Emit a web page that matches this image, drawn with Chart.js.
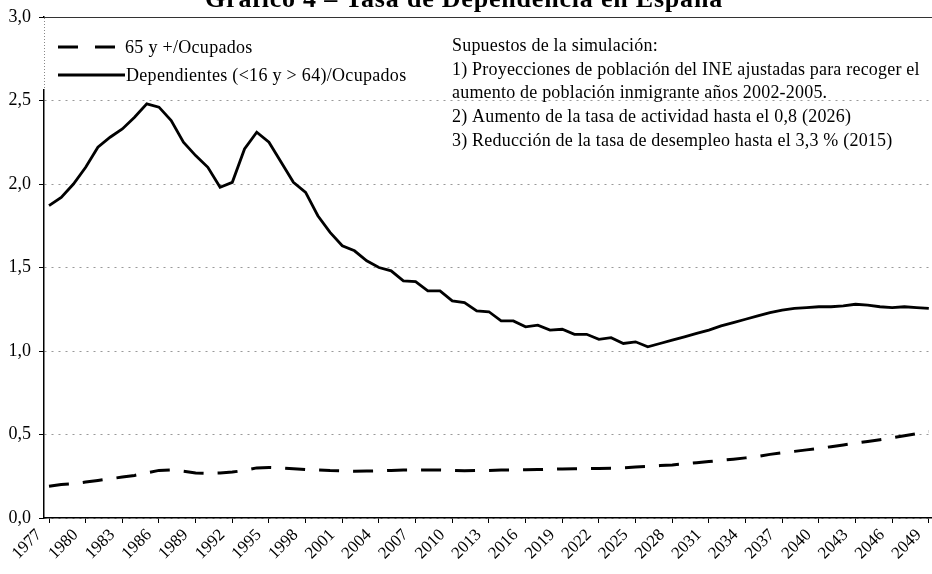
<!DOCTYPE html>
<html lang="es">
<head>
<meta charset="utf-8">
<title>Tasa de Dependencia en España</title>
<script src="https://cdn.jsdelivr.net/npm/chart.js@4.4.4/dist/chart.umd.min.js"></script>
<style>
  html, body { margin: 0; padding: 0; background: #fff; }
  #wrap { width: 932px; height: 574px; }
</style>
</head>
<body>
<div id="wrap"><canvas id="chart-dep" width="932" height="574"></canvas></div>
<script>
// Datos
const years = [
  1977, 1978, 1979, 1980, 1981, 1982, 1983, 1984, 1985, 1986,
  1987, 1988, 1989, 1990, 1991, 1992, 1993, 1994, 1995, 1996,
  1997, 1998, 1999, 2000, 2001, 2002, 2003, 2004, 2005, 2006,
  2007, 2008, 2009, 2010, 2011, 2012, 2013, 2014, 2015, 2016,
  2017, 2018, 2019, 2020, 2021, 2022, 2023, 2024, 2025, 2026,
  2027, 2028, 2029, 2030, 2031, 2032, 2033, 2034, 2035, 2036,
  2037, 2038, 2039, 2040, 2041, 2042, 2043, 2044, 2045, 2046,
  2047, 2048, 2049
];

const dependientes = [
  1.87, 1.92, 2.00, 2.10, 2.22, 2.28, 2.33, 2.40, 2.48, 2.46,
  2.38, 2.25, 2.17, 2.10, 1.98, 2.01, 2.21, 2.31, 2.25, 2.13,
  2.01, 1.95, 1.81, 1.71, 1.63, 1.60, 1.54, 1.50, 1.48, 1.42,
  1.415, 1.36, 1.36, 1.30, 1.29, 1.24, 1.235, 1.18, 1.18, 1.145,
  1.155, 1.125, 1.13, 1.10, 1.10, 1.07, 1.08, 1.045, 1.055, 1.025,
  1.045, 1.065, 1.085, 1.105, 1.125, 1.15, 1.17, 1.19, 1.21, 1.23,
  1.245, 1.255, 1.26, 1.265, 1.265, 1.27, 1.28, 1.275, 1.265, 1.26,
  1.265, 1.26, 1.255
];

const mayores65 = [
  0.19, 0.20, 0.205, 0.215, 0.225, 0.235, 0.245, 0.255, 0.27, 0.285,
  0.288, 0.28, 0.27, 0.268, 0.27, 0.275, 0.285, 0.30, 0.303, 0.30,
  0.295, 0.29, 0.288, 0.284, 0.282, 0.28, 0.281, 0.282, 0.285, 0.287,
  0.287, 0.288, 0.287, 0.285, 0.283, 0.284, 0.285, 0.287, 0.288, 0.289,
  0.29, 0.292, 0.294, 0.295, 0.296, 0.297, 0.298, 0.301, 0.305, 0.309,
  0.314, 0.318, 0.324, 0.331, 0.338, 0.345, 0.352, 0.36, 0.369, 0.381,
  0.39, 0.399, 0.408, 0.417, 0.427, 0.437, 0.448, 0.458, 0.469, 0.48,
  0.492, 0.505, 0.518
];

const xTickYears = [
  1977, 1980, 1983, 1986, 1989, 1992, 1995, 1998, 2001, 2004, 2007, 2010, 2013,
  2016, 2019, 2022, 2025, 2028, 2031, 2034, 2037, 2040, 2043, 2046, 2049
];

const titulo = 'Gráfico 4 – Tasa de Dependencia en España';
const supuestos = [
  'Supuestos de la simulación:',
  '1) Proyecciones de población del INE ajustadas para recoger el',
  'aumento de población inmigrante años 2002-2005.',
  '2) Aumento de la tasa de actividad hasta el 0,8 (2026)',
  '3) Reducción de la tasa de desempleo hasta el 3,3 % (2015)'
];

const SERIF = '"Liberation Serif", "DejaVu Serif", serif';

const toPoints = vals => years.map((y, i) => ({ x: y, y: vals[i] }));

// título cortado, cuadro de leyenda y notas
const decorPlugin = {
  id: 'decor',
  afterDatasetsDraw(chart) {
    const { ctx, chartArea: a } = chart;
    ctx.save();

    ctx.fillStyle = '#000';
    ctx.font = 'bold 26px ' + SERIF;
    ctx.letterSpacing = '0.8px';
    ctx.textAlign = 'center';
    ctx.textBaseline = 'alphabetic';
    ctx.fillText(titulo, 464, 7);

    // marco superior (3,0)
    ctx.strokeStyle = '#333';
    ctx.lineWidth = 1;
    ctx.beginPath();
    ctx.moveTo(a.left, a.top + 0.5);
    ctx.lineTo(a.right, a.top + 0.5);
    ctx.stroke();

    // caja de leyenda
    ctx.fillStyle = '#fff';
    ctx.fillRect(a.left - 2, a.top + 1, 406, 71);
    ctx.setLineDash([1, 2]);
    ctx.strokeStyle = '#888';
    ctx.beginPath();
    ctx.moveTo(a.left + 0.5, a.top + 1);
    ctx.lineTo(a.left + 0.5, a.top + 72);
    ctx.stroke();

    const rows = [
      { ds: chart.data.datasets[0], y: 47, x1: 58, x2: 115, tx: 125 },
      { ds: chart.data.datasets[1], y: 75, x1: 58, x2: 125, tx: 126 }
    ];
    ctx.font = '18px ' + SERIF;
    ctx.letterSpacing = '0.3px';
    ctx.textAlign = 'left';
    ctx.textBaseline = 'middle';
    rows.forEach(r => {
      ctx.setLineDash(r.ds.legendDash || []);
      ctx.strokeStyle = r.ds.borderColor;
      ctx.lineWidth = r.ds.borderWidth;
      ctx.beginPath();
      ctx.moveTo(r.x1, r.y);
      ctx.lineTo(r.x2, r.y);
      ctx.stroke();
      ctx.fillStyle = '#000';
      ctx.fillText(r.ds.label, r.tx, r.y + 1);
    });
    ctx.setLineDash([]);

    ctx.letterSpacing = '0.2px';
    supuestos.forEach((t, i) => ctx.fillText(t, 452, 46 + i * 23.8));
    ctx.restore();
  }
};

new Chart(document.getElementById('chart-dep').getContext('2d'), {
  type: 'line',
  data: {
    datasets: [
      {
        label: '65 y +/Ocupados',
        data: toPoints(mayores65),
        borderColor: '#000',
        borderWidth: 3,
        borderDash: [20, 14],
        legendDash: [20, 17],
        pointRadius: 0,
        tension: 0
      },
      {
        label: 'Dependientes (<16 y > 64)/Ocupados',
        data: toPoints(dependientes),
        borderColor: '#000',
        borderWidth: 2.8,
        pointRadius: 0,
        tension: 0
      }
    ]
  },
  options: {
    responsive: false,
    animation: false,
    devicePixelRatio: 1,
    layout: { padding: { top: 17, right: 0, left: 0, bottom: 0 } },
    plugins: { legend: { display: false }, tooltip: { enabled: false } },
    scales: {
      x: {
        type: 'linear',
        min: 1976.59,
        max: 2049.26,
        afterBuildTicks: s => { s.ticks = xTickYears.map(v => ({ value: v })); },
        afterFit: s => { s.height = 56; s.paddingLeft = 0; s.paddingRight = 0; },
        grid: { display: true, drawOnChartArea: false, tickLength: 5, tickColor: '#000' },
        border: { color: '#000', width: 1.5 },
        ticks: {
          autoSkip: false,
          minRotation: 45,
          maxRotation: 45,
          padding: 2,
          labelOffset: -10,
          color: '#000',
          font: { family: SERIF, size: 17 },
          callback: v => String(v)
        }
      },
      y: {
        min: 0,
        max: 3,
        afterFit: s => { s.width = 44; s.paddingTop = 0; s.paddingBottom = 0; },
        grid: { color: '#999', lineWidth: 1, tickLength: 5, tickColor: '#000' },
        border: { color: '#000', width: 1.5, dash: [2, 5] },
        ticks: {
          stepSize: 0.5,
          padding: 8,
          color: '#000',
          font: { family: SERIF, size: 18 },
          callback: v => v.toFixed(1).replace('.', ',')
        }
      }
    }
  },
  plugins: [decorPlugin]
});
</script>
</body>
</html>
